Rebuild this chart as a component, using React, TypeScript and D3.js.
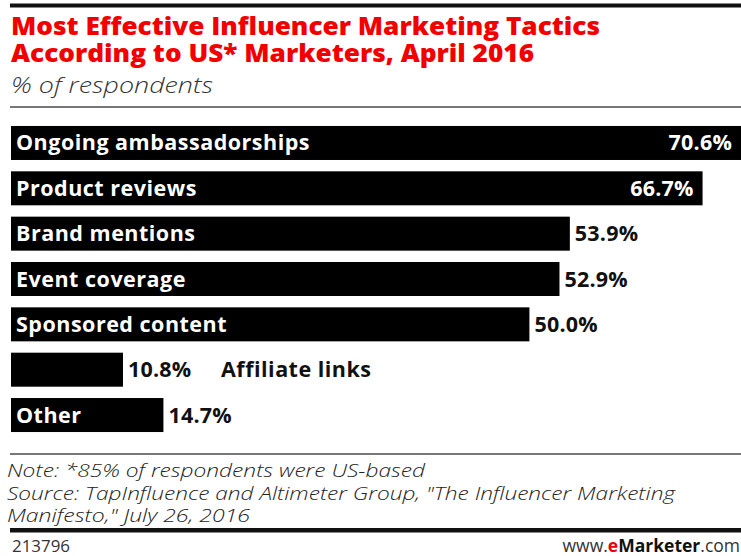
import React from "react";
import * as d3 from "d3";

const categories = [
  "Ongoing ambassadorships",
  "Product reviews",
  "Brand mentions",
  "Event coverage",
  "Sponsored content",
  "Affiliate links",
  "Other",
];
const values = [70.6, 66.7, 53.9, 52.9, 50.0, 10.8, 14.7];

const titleLines = [
  "Most Effective Influencer Marketing Tactics",
  "According to US* Marketers, April 2016",
];
const subtitle = "% of respondents";
const noteLines = [
  "Note: *85% of respondents were US-based",
  'Source: TapInfluence and Altimeter Group, "The Influencer Marketing',
  'Manifesto," July 26, 2016',
];
const chartId = "213796";

const W = 741;
const H = 556;

export default function App() {
  const x = d3.scaleLinear().domain([0, 70.6]).range([11, 743]);
  const y = d3
    .scaleBand<string>()
    .domain(categories)
    .range([120.3, 437.7])
    .paddingInner(0.25)
    .paddingOuter(0.125);

  const boldFont = "'Open Sans', 'DejaVu Sans', sans-serif";
  const lightFont = "'Open Sans', 'Liberation Sans', sans-serif";
  const labelSize = 21.5;

  // approximate width of a bold label, for placement decisions
  const approxW = (s: string) => s.length * labelSize * 0.62;

  return (
    <div style={{ position: "absolute", left: 0, top: 0 }}>
      <svg width={W} height={H} style={{ display: "block", background: "#fff" }}>
        {/* top rule */}
        <rect x={10} y={3.5} width={W - 10} height={4} fill="#111" />
        {/* title */}
        {titleLines.map((t, i) => (
          <text
            key={t}
            x={11}
            y={35 + i * 27}
            fill="#f20000"
            fontFamily={boldFont}
            fontWeight={800}
            fontSize={24}
            textLength={i === 0 ? 589 : 523}
            lengthAdjust="spacingAndGlyphs"
          >
            {t}
          </text>
        ))}
        <text
          x={11}
          y={93}
          fill="#333"
          fontFamily={lightFont}
          fontStyle="italic"
          fontWeight={300}
          fontSize={22}
          textLength={202}
          lengthAdjust="spacingAndGlyphs"
        >
          {subtitle}
        </text>
        <rect x={10} y={106} width={W - 10} height={2} fill="#777" />

        {/* bars */}
        {categories.map((c, i) => {
          const v = values[i];
          const y0 = y(c)!;
          const bw = y.bandwidth();
          const xEnd = x(v);
          const cy = y0 + bw / 2 + 7.5;
          const barW = xEnd - x(0);
          const catInside = approxW(c) + 12 < barW;
          const valInside = v > 60;
          const valStr = v.toFixed(1) + "%";
          const valX = valInside ? Math.min(xEnd, W) - 9 : xEnd + 5;
          return (
            <g key={c}>
              <rect x={x(0)} y={y0} width={barW} height={bw} fill="#000" />
              <text
                x={valX}
                y={cy}
                textAnchor={valInside ? "end" : "start"}
                fill={valInside ? "#fff" : "#111"}
                fontFamily={boldFont}
                fontWeight={700}
                fontSize={labelSize}
                letterSpacing={0.2}
              >
                {valStr}
              </text>
              <text
                x={catInside ? x(0) + 5 : xEnd + 98}
                y={cy}
                fill={catInside ? "#fff" : "#111"}
                fontFamily={boldFont}
                fontWeight={700}
                fontSize={labelSize}
                letterSpacing={0.5}
              >
                {c}
              </text>
            </g>
          );
        })}

        {/* footer */}
        <rect x={10} y={453} width={W - 10} height={2} fill="#777" />
        {noteLines.map((t, i) => (
          <text
            key={t}
            x={7}
            y={477 + i * 22.5}
            fill="#222"
            fontFamily={lightFont}
            fontStyle="italic"
            fontWeight={300}
            fontSize={18.5}
            textLength={i === 0 ? 418 : i === 1 ? 668 : 243}
            lengthAdjust="spacingAndGlyphs"
          >
            {t}
          </text>
        ))}
        <rect x={10} y={528} width={W - 10} height={4.5} fill="#111" />
        <text
          x={12}
          y={552}
          fill="#333"
          fontFamily="'Open Sans', sans-serif"
          fontSize={16.5}
          textLength={58}
          lengthAdjust="spacingAndGlyphs"
        >
          {chartId}
        </text>
        <text
          x={740}
          y={552}
          textAnchor="end"
          fill="#333"
          fontFamily="'Open Sans', sans-serif"
          fontSize={17.5}
        >
          <tspan>www.</tspan>
          <tspan fill="#e8000b" fontWeight={700}>e</tspan>
          <tspan fill="#111" fontWeight={700}>Marketer</tspan>
          <tspan>.com</tspan>
        </text>
      </svg>
    </div>
  );
}
